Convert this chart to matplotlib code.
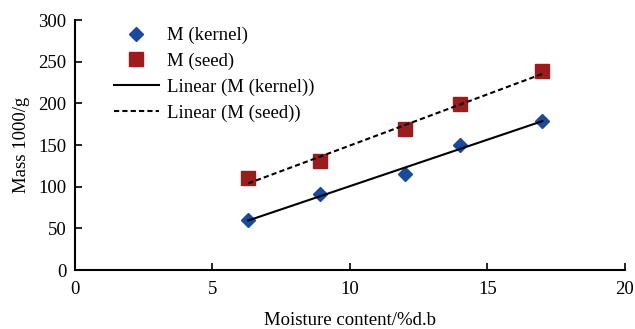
import numpy as np
import matplotlib.pyplot as plt

moisture = [6.3, 8.9, 12.0, 14.0, 17.0]
m_kernel = [60, 91, 115, 150, 179]
m_seed = [110, 131, 169, 199, 239]

plt.rcParams['font.family'] = ['Liberation Serif', 'DejaVu Serif']
plt.rcParams['font.size'] = 13.5

fig = plt.figure(figsize=(6.35, 3.29), dpi=100)
ax = fig.add_axes([0.118, 0.179, 0.866, 0.760])

ax.plot(moisture, m_kernel, 'D', color='#1a4a9a', markersize=7.5, label='M (kernel)', zorder=3)
ax.plot(moisture, m_seed, 's', color='#9b1c1c', markersize=10, label='M (seed)', zorder=3)

xs = np.array([moisture[0], moisture[-1]])
k = np.polyfit(moisture, m_kernel, 1)
s = np.polyfit(moisture, m_seed, 1)
ax.plot(xs, np.polyval(k, xs), '-', color='black', lw=1.5, label='Linear (M (kernel))', zorder=4)
ax.plot(xs, np.polyval(s, xs), '--', color='black', lw=1.5, dashes=(2.5, 1.5), label='Linear (M (seed))', zorder=4)

ax.set_xlim(0, 20)
ax.set_ylim(0, 300)
ax.set_xticks([0, 5, 10, 15, 20])
ax.set_yticks([0, 50, 100, 150, 200, 250, 300])
ax.tick_params(direction='in', length=5, width=1.2, labelsize=13.5)
ax.tick_params(axis='x', pad=8)
ax.tick_params(axis='y', pad=6)
for sp in ['top', 'right']:
    ax.spines[sp].set_visible(False)
for sp in ['left', 'bottom']:
    ax.spines[sp].set_linewidth(1.5)

ax.set_xlabel('Moisture content/%d.b', labelpad=10)
ax.set_ylabel('Mass 1000/g', labelpad=6)

ax.legend(loc='upper left', bbox_to_anchor=(0.04, 1.04), frameon=False,
          handlelength=2.4, handletextpad=0.45, labelspacing=0.45)

fig.savefig('out.png', dpi=100)
